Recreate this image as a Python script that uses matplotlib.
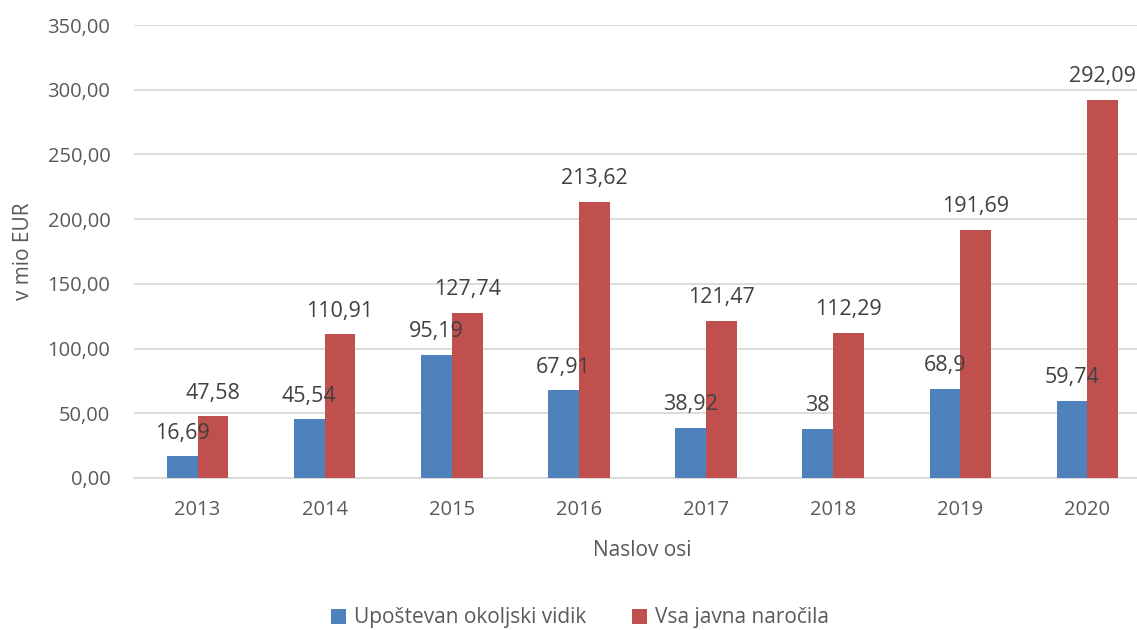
import numpy as np
import matplotlib
matplotlib.use('Agg')
import matplotlib.pyplot as plt
from matplotlib.ticker import FuncFormatter

years = ['2013', '2014', '2015', '2016', '2017', '2018', '2019', '2020']
okoljski = [16.69, 45.54, 95.19, 67.91, 38.92, 38.0, 68.9, 59.74]
vsa = [47.58, 110.91, 127.74, 213.62, 121.47, 112.29, 191.69, 292.09]
okoljski_labels = ['16,69', '45,54', '95,19', '67,91', '38,92', '38', '68,9', '59,74']
vsa_labels = ['47,58', '110,91', '127,74', '213,62', '121,47', '112,29', '191,69', '292,09']

plt.rcParams['font.family'] = ['Open Sans', 'DejaVu Sans']

W, H = 1137, 630
fig = plt.figure(figsize=(W / 100, H / 100), dpi=100)
ax = fig.add_axes([134 / W, (H - 478) / H, (1151 - 134) / W, (478 - 25) / H])

x = np.arange(len(years))
w = 0.242
b1 = ax.bar(x - w / 2, okoljski, w, color='#4F81BD', label='Upoštevan okoljski vidik', zorder=3)
b2 = ax.bar(x + w / 2, vsa, w, color='#C0504D', label='Vsa javna naročila', zorder=3)

for bars, labels in ((b1, okoljski_labels), (b2, vsa_labels)):
    for rect, lab in zip(bars, labels):
        ax.annotate(lab, (rect.get_x() + rect.get_width() / 2, rect.get_height()),
                    xytext=(0, 9), textcoords='offset points', ha='center', va='bottom',
                    fontsize=15.5, color='#404040', zorder=4)

ax.set_xlim(-0.5, 7.5)
ax.set_ylim(0, 350)
ax.set_yticks(np.arange(0, 351, 50))
ax.yaxis.set_major_formatter(FuncFormatter(lambda v, p: f'{v:.2f}'.replace('.', ',')))
ax.set_xticks(x)
ax.set_xticklabels(years)
ax.tick_params(axis='both', length=0, labelsize=14.5, colors='#595959')
ax.tick_params(axis='y', pad=17)
ax.tick_params(axis='x', pad=16)
ax.grid(axis='y', color='#D9D9D9', linewidth=1.3, zorder=0)
for s in ['top', 'right', 'left']:
    ax.spines[s].set_visible(False)
ax.spines['bottom'].set_color('#D9D9D9')
ax.spines['bottom'].set_linewidth(1.3)

ax.set_xlabel('Naslov osi', fontsize=15, color='#595959', labelpad=14)
fig.text(24 / W, 1 - 251 / H, 'v mio EUR', rotation=90, ha='center', va='center',
         fontsize=15, color='#595959')

fig.legend(handles=[b1, b2], loc='center', bbox_to_anchor=(580 / W, 1 - 618 / H), ncol=2,
           frameon=False, fontsize=15, labelcolor='#595959', handlelength=0.7,
           handleheight=0.7, columnspacing=2.2, handletextpad=0.4)

fig.savefig('out.png', dpi=100)
